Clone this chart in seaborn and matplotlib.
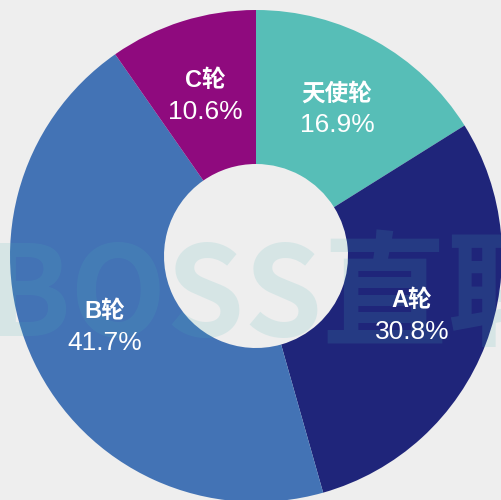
import numpy as np
import matplotlib
matplotlib.use("Agg")
import matplotlib.pyplot as plt
import seaborn as sns

# funding rounds, clockwise from 12 o'clock
rounds = ["天使轮", "A轮", "B轮", "C轮"]
shares = [16.9, 30.8, 41.7, 10.6]          # printed percentages
wedge_sizes = [16.1, 29.5, 44.7, 9.7]      # angular share as drawn in the source
colors = ["#57BEB7", "#1F257A", "#4373B5", "#8F0A7E"]
watermark = "BOSS直聘"

sns.set_theme(style="white")
plt.rcParams['font.family'] = ['Liberation Sans', 'Noto Sans CJK SC', 'DejaVu Sans']

bg = "#EEEEEE"
fig = plt.figure(figsize=(5.01, 5.0), dpi=100, facecolor=bg)
ax = fig.add_axes([0, 0, 1, 1])
ax.set_facecolor(bg)

wedges, _ = ax.pie(wedge_sizes, colors=colors, startangle=90, counterclock=False,
                   radius=1.0, wedgeprops=dict(width=0.626, linewidth=0))

# pixel layout: centre at (256, 256) from top-left, outer radius 246 px
R = 246.0
ax.set_aspect('auto')
ax.set_xlim(-256 / R, (501 - 256) / R)
ax.set_ylim(-(500 - 256) / R, 256 / R)
ax.axis('off')

# faint watermark over the ring
ax.text(-1.10, -0.175, watermark, color="#4DB6B8", alpha=0.15, fontsize=90,
        fontweight='bold', ha='left', va='center', zorder=3,
        family=['Noto Sans CJK SC', 'DejaVu Sans'])

for w, name, val in zip(wedges, rounds, shares):
    mid = np.deg2rad((w.theta1 + w.theta2) / 2)
    r = 0.68
    x, y = r * np.cos(mid), r * np.sin(mid)
    ax.text(x, y + 0.064, name, color="white", fontsize=17, fontweight='bold',
            ha='center', va='center', zorder=5)
    ax.text(x, y - 0.064, f"{val}%", color="white", fontsize=19,
            ha='center', va='center', zorder=5)

fig.savefig("out.png", dpi=100, facecolor=bg)
